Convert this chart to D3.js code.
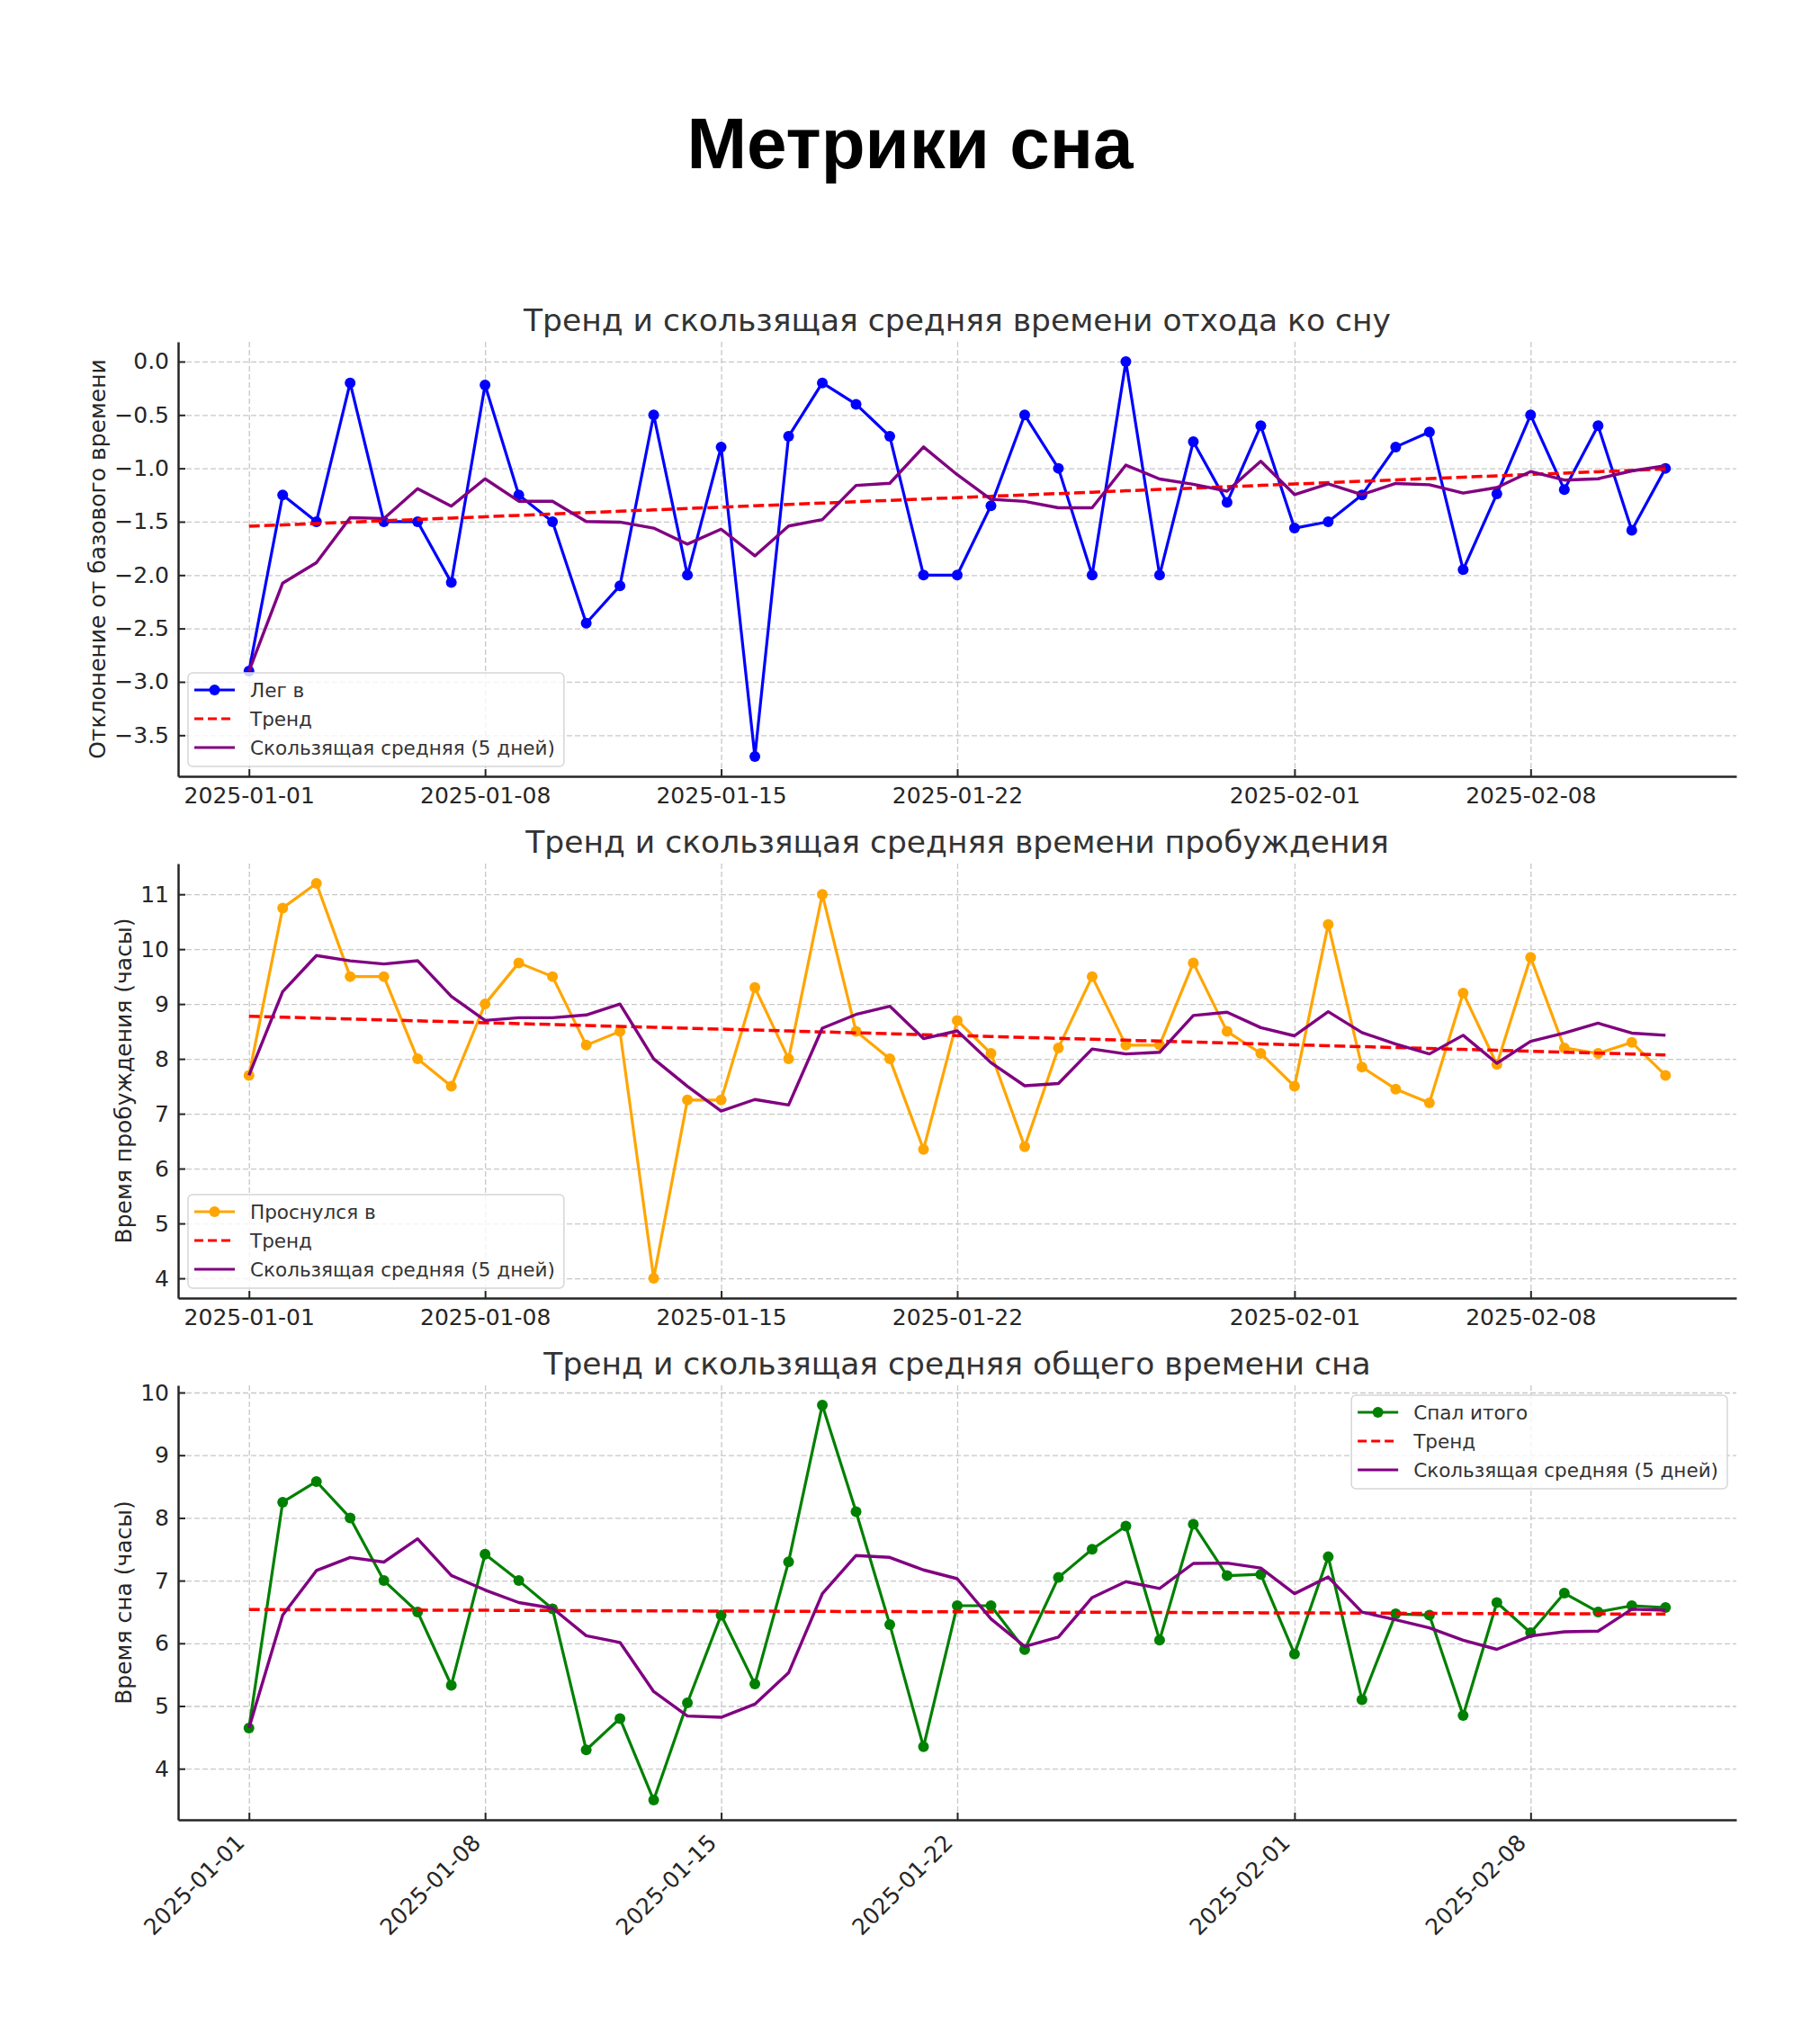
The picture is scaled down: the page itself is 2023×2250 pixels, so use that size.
<!DOCTYPE html>
<html>
<head>
<meta charset="utf-8">
<script src="https://cdn.jsdelivr.net/npm/d3@7"></script>
<style>
  body { margin: 0; background: #fff; }
  text { font-family: "DejaVu Sans", sans-serif; }
</style>
</head>
<body>
<script>
// data

const startDate = "2025-01-01";

const bedtime = [-2.9, -1.25, -1.5, -0.2, -1.5, -1.5, -2.07, -0.22, -1.25, -1.5,
                 -2.45, -2.1, -0.5, -2.0, -0.8, -3.7, -0.7, -0.2, -0.4, -0.7,
                 -2.0, -2.0, -1.35, -0.5, -1.0, -2.0, 0.0, -2.0, -0.75, -1.32,
                 -0.6, -1.56, -1.5, -1.25, -0.8, -0.66, -1.95, -1.24, -0.5, -1.2,
                 -0.6, -1.58, -1.0];

const wake = [7.7, 10.75, 11.2, 9.5, 9.5, 8.0, 7.5, 9.0, 9.75, 9.5,
              8.25, 8.5, 4.0, 7.25, 7.25, 9.3, 8.0, 11.0, 8.5, 8.0,
              6.35, 8.7, 8.1, 6.4, 8.2, 9.5, 8.25, 8.25, 9.75, 8.5,
              8.1, 7.5, 10.45, 7.85, 7.45, 7.2, 9.2, 7.9, 9.85, 8.2,
              8.1, 8.3, 7.7];

const sleep = [4.65, 8.25, 8.58, 8.0, 7.0, 6.5, 5.33, 7.42, 7.0, 6.55,
               4.3, 4.8, 3.5, 5.05, 6.45, 5.35, 7.3, 9.8, 8.1, 6.3,
               4.35, 6.6, 6.6, 5.9, 7.05, 7.5, 7.87, 6.05, 7.9, 7.08,
               7.1, 5.83, 7.38, 5.1, 6.47, 6.45, 4.85, 6.65, 6.17, 6.8,
               6.5, 6.6, 6.57];

const xTickLabels = ["2025-01-01", "2025-01-08", "2025-01-15", "2025-01-22", "2025-02-01", "2025-02-08"];
const bedTicks = [0, -0.5, -1, -1.5, -2, -2.5, -3, -3.5];
const wakeTicks = [4, 5, 6, 7, 8, 9, 10, 11];
const sleepTicks = [4, 5, 6, 7, 8, 9, 10];

const legendTrend = "Тренд";
const legendMA = "Скользящая средняя (5 дней)";

// dimensions

const dms = {
    width: 2023,
    height: 2250,
    left: 198,
    right: 1930,
    tops: [380, 960, 1540],
    panelHeight: 483
};

const parse = d3.timeParse("%Y-%m-%d");
const dates = bedtime.map((d, i) => d3.timeDay.offset(parse(startDate), i));
const DAY = 864e5;

// helpers

function rolling(v, n) {
    return v.map((_, i) => d3.mean(v.slice(Math.max(0, i - n + 1), i + 1)));
}

function trendLine(v) {
    const xs = v.map((_, i) => i);
    const mx = d3.mean(xs), my = d3.mean(v);
    const b = d3.sum(xs, (x, i) => (x - mx) * (v[i] - my)) / d3.sum(xs, x => (x - mx) ** 2);
    return xs.map(x => my + b * (x - mx));
}

const minusFmt = d => d3.format(".1f")(d).replace("-", "\u2212");
const intFmt = d => String(d);

// canvas

const svg = d3.select("body")
    .append("svg")
    .attr("width", dms.width)
    .attr("height", dms.height)
    .style("background", "#fff");

svg.append("text")
    .attr("x", dms.width / 2)
    .attr("y", 187)
    .attr("text-anchor", "middle")
    .style("font-family", "'Liberation Sans', Arial, sans-serif")
    .style("font-weight", "bold")
    .style("font-size", "80px")
    .attr("fill", "#000")
    .text("Метрики сна");

const xScale = d3.scaleTime()
    .domain([new Date(+dates[0] - 2.1 * DAY), new Date(+dates[dates.length - 1] + 2.1 * DAY)])
    .range([dms.left, dms.right]);

const xTickDates = xTickLabels.map(parse);

const panels = [
    {
        values: bedtime, color: "#0000ff", label: "Лег в",
        title: "Тренд и скользящая средняя времени отхода ко сну",
        ylabel: "Отклонение от базового времени",
        ticks: bedTicks, fmt: minusFmt, legend: "lowerleft", rotate: false
    },
    {
        values: wake, color: "#ffa500", label: "Проснулся в",
        title: "Тренд и скользящая средняя времени пробуждения",
        ylabel: "Время пробуждения (часы)",
        ticks: wakeTicks, fmt: intFmt, legend: "lowerleft", rotate: false
    },
    {
        values: sleep, color: "#008000", label: "Спал итого",
        title: "Тренд и скользящая средняя общего времени сна",
        ylabel: "Время сна (часы)",
        ticks: sleepTicks, fmt: intFmt, legend: "upperright", rotate: true
    }
];

panels.forEach((p, k) => drawPanel(p, dms.tops[k]));

function drawPanel(p, top) {
    const bottom = top + dms.panelHeight;
    const [lo, hi] = d3.extent(p.values);
    const pad = (hi - lo) * 0.05;
    const yScale = d3.scaleLinear()
        .domain([lo - pad, hi + pad])
        .range([bottom, top]);

    const g = svg.append("g");

    // grid
    g.append("g")
        .attr("transform", `translate(0,${bottom})`)
        .call(d3.axisBottom(xScale).tickValues(xTickDates).tickSize(-(bottom - top)).tickFormat(""))
        .call(a => a.select(".domain").remove())
        .selectAll("line")
            .attr("stroke", "#c8c8c8")
            .attr("stroke-width", 1.3)
            .attr("stroke-dasharray", "6,3");

    g.append("g")
        .attr("transform", `translate(${dms.left},0)`)
        .call(d3.axisLeft(yScale).tickValues(p.ticks).tickSize(-(dms.right - dms.left)).tickFormat(""))
        .call(a => a.select(".domain").remove())
        .selectAll("line")
            .attr("stroke", "#c8c8c8")
            .attr("stroke-width", 1.3)
            .attr("stroke-dasharray", "6,3");

    // data
    const line = d3.line()
        .x((d, i) => xScale(dates[i]))
        .y(d => yScale(d));

    g.append("path")
        .datum(p.values)
        .attr("d", line)
        .attr("fill", "none")
        .attr("stroke", p.color)
        .attr("stroke-width", 3.2)
        .attr("stroke-linejoin", "round");

    g.selectAll("circle.pt")
        .data(p.values)
        .enter()
        .append("circle")
            .attr("class", "pt")
            .attr("cx", (d, i) => xScale(dates[i]))
            .attr("cy", d => yScale(d))
            .attr("r", 6)
            .attr("fill", p.color);

    g.append("path")
        .datum(trendLine(p.values))
        .attr("d", line)
        .attr("fill", "none")
        .attr("stroke", "#ff0000")
        .attr("stroke-width", 3.5)
        .attr("stroke-dasharray", "12,5");

    g.append("path")
        .datum(rolling(p.values, 5))
        .attr("d", line)
        .attr("fill", "none")
        .attr("stroke", "#800080")
        .attr("stroke-width", 3.4)
        .attr("stroke-linejoin", "round");

    // axes
    const yAxis = g.append("g")
        .attr("transform", `translate(${dms.left},0)`)
        .call(d3.axisLeft(yScale).tickValues(p.ticks).tickFormat(p.fmt).tickSizeInner(-8).tickSizeOuter(0).tickPadding(10));
    yAxis.select(".domain").attr("stroke", "#262626").attr("stroke-width", 2.5);
    yAxis.selectAll(".tick line").attr("stroke", "#262626").attr("stroke-width", 2);
    yAxis.selectAll(".tick text")
        .attr("fill", "#262626")
        .style("font-size", "25px")
        .style("font-family", "'DejaVu Sans', sans-serif");

    const xAxis = g.append("g")
        .attr("transform", `translate(0,${bottom})`)
        .call(d3.axisBottom(xScale).tickValues(xTickDates).tickFormat(d3.timeFormat("%Y-%m-%d")).tickSizeInner(-8).tickSizeOuter(0).tickPadding(10));
    xAxis.select(".domain").attr("stroke", "#262626").attr("stroke-width", 2.5);
    xAxis.selectAll(".tick line").attr("stroke", "#262626").attr("stroke-width", 2);
    const xt = xAxis.selectAll(".tick text")
        .attr("fill", "#262626")
        .style("font-size", "25px")
        .style("font-family", "'DejaVu Sans', sans-serif");
    if (p.rotate) {
        xt.attr("text-anchor", "end")
          .attr("dy", null)
          .attr("y", null)
          .attr("transform", "translate(-4,27) rotate(-45)");
    } else {
        xt.attr("y", 11).attr("dy", "0.75em");
    }

    // subplot title
    g.append("text")
        .attr("x", (dms.left + dms.right) / 2)
        .attr("y", top - 12)
        .attr("text-anchor", "middle")
        .attr("fill", "#333333")
        .style("font-size", "34.5px")
        .text(p.title);

    // y label, placed left of tick labels
    let minX = Infinity;
    yAxis.selectAll(".tick text").each(function () {
        const w = this.getComputedTextLength();
        minX = Math.min(minX, dms.left - 10 - w);
    });
    const ly = (top + bottom) / 2;
    const lx = minX - 10;
    g.append("text")
        .attr("transform", `translate(${lx},${ly}) rotate(-90)`)
        .attr("text-anchor", "middle")
        .attr("fill", "#262626")
        .style("font-size", "25px")
        .text(p.ylabel);

    // legend
    const items = [
        { label: p.label, color: p.color, kind: "marker" },
        { label: legendTrend, color: "#ff0000", kind: "dash" },
        { label: legendMA, color: "#800080", kind: "line" }
    ];
    const lg = g.append("g");
    const box = lg.append("rect")
        .attr("rx", 5)
        .attr("fill", "#fff")
        .attr("fill-opacity", 0.8)
        .attr("stroke", "#d6d6d6")
        .attr("stroke-width", 1.5);
    let maxW = 0;
    items.forEach((it, i) => {
        const cy = 19 + i * 32;
        lg.append("line")
            .attr("x1", 7).attr("x2", 52)
            .attr("y1", cy).attr("y2", cy)
            .attr("stroke", it.color)
            .attr("stroke-width", 3.2)
            .attr("stroke-dasharray", it.kind === "dash" ? "10,5" : null);
        if (it.kind === "marker") {
            lg.append("circle").attr("cx", 29.5).attr("cy", cy).attr("r", 6).attr("fill", it.color);
        }
        const t = lg.append("text")
            .attr("x", 69)
            .attr("y", cy)
            .attr("dy", "0.36em")
            .attr("fill", "#333333")
            .style("font-size", "21.5px")
            .text(it.label);
        maxW = Math.max(maxW, t.node().getComputedTextLength());
    });
    const bw = 69 + maxW + 10, bh = 104;
    box.attr("width", bw).attr("height", bh);
    let lx0, ly0;
    if (p.legend === "lowerleft") {
        lx0 = dms.left + 11; ly0 = bottom - 11 - bh;
    } else {
        lx0 = dms.right - 10 - bw; ly0 = top + 11;
    }
    lg.attr("transform", `translate(${lx0},${ly0})`);
}
</script>
</body>
</html>
